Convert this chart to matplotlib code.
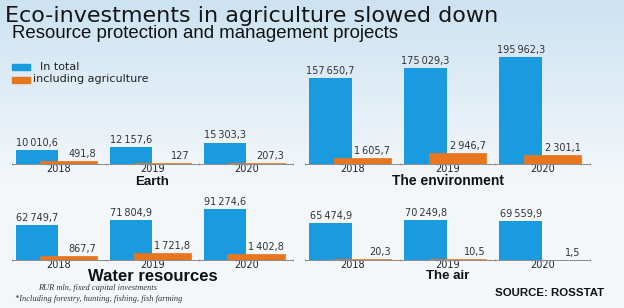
import numpy as np
import matplotlib
matplotlib.use('Agg')
import matplotlib.pyplot as plt
from matplotlib import transforms

years = ['2018', '2019', '2020']

earth_total = [10010.6, 12157.6, 15303.3]
earth_agri = [491.8, 127, 207.3]
env_total = [157650.7, 175029.3, 195962.3]
env_agri = [1605.7, 2946.7, 2301.1]
water_total = [62749.7, 71804.9, 91274.6]
water_agri = [867.7, 1721.8, 1402.8]
air_total = [65474.9, 70249.8, 69559.9]
air_agri = [20.3, 10.5, 1.5]

BLUE = '#1a9be0'
ORANGE = '#e8761f'
W, H = 624, 308


def fmt(v):
    if float(v).is_integer():
        return str(int(v))
    s = f'{v:,.1f}'
    return s.replace(',', '\u2009').replace('.', ',')


def panel(fig, left, bottom, width, height, total, agri, ymax, ymax2, title, tsize, toff):
    ax = fig.add_axes([left / W, 1 - bottom / H, width / W, height / H])
    ax.patch.set_alpha(0)
    x = np.arange(len(years))
    ax.bar(x - 0.455, total, width=0.45, align='edge', color=BLUE, zorder=2)
    ax.set_xlim(-0.5, 2.5)
    ax.set_ylim(0, ymax)
    for s in ['top', 'right', 'left']:
        ax.spines[s].set_visible(False)
    ax.spines['bottom'].set_color('#8a8a8a')
    ax.spines['bottom'].set_linewidth(0.7)
    ax.set_yticks([])
    ax.set_xticks(x)
    ax.set_xticklabels(years, fontsize=7, color='#222222')
    ax.tick_params(axis='x', which='major', length=0, pad=0.3)
    ax.set_xticks([-0.5, 0.5, 1.5, 2.5], minor=True)
    ax.tick_params(axis='x', which='minor', length=2, width=0.6, color='#8a8a8a', direction='inout')
    for xi, v in zip(x, total):
        ax.annotate(fmt(v), (xi - 0.23, v), xytext=(0, 1.5), textcoords='offset points',
                    ha='center', va='bottom', fontsize=7, color='#333333')

    ax2 = ax.twinx()
    ax2.bar(x - 0.2, agri, width=0.61, align='edge', color=ORANGE,
            edgecolor=ORANGE, linewidth=0.5, zorder=3)
    ax2.set_ylim(0, ymax2)
    ax2.set_yticks([])
    for s in ['top', 'right', 'left', 'bottom']:
        ax2.spines[s].set_visible(False)
    for xi, v in zip(x, agri):
        ax2.annotate(fmt(v), (xi + 0.4, v), xytext=(0, 1.5), textcoords='offset points',
                     ha='right', va='bottom', fontsize=7, color='#333333')

    tr = transforms.blended_transform_factory(ax.transData, ax.transAxes)
    ax.annotate(title, (1, 0), xycoords=tr, xytext=(0, -toff), textcoords='offset points',
                ha='center', va='baseline', fontsize=tsize, fontweight='bold',
                family='Liberation Sans', color='#111111')
    return ax


fig = plt.figure(figsize=(W / 100, H / 100), dpi=100)

# background gradient
bg = fig.add_axes([0, 0, 1, 1])
grad = np.linspace(0, 1, 200)[:, None]
top = np.array([0.80, 0.89, 0.95])
bot = np.array([0.96, 0.97, 0.98])
t = np.clip(grad / 0.6, 0, 1)
img = top * (1 - t)[..., None] + bot * t[..., None]
bg.imshow(np.repeat(img, 2, axis=1), aspect='auto', extent=[0, 1, 0, 1], origin='upper')
bg.set_axis_off()

panel(fig, 12, 164, 281, 110, earth_total, earth_agri, 78600, 20000, 'Earth', 9.5, 15)
panel(fig, 305, 164, 285, 110, env_total, env_agri, 201300, 29200, 'The environment', 10, 15)
panel(fig, 12, 260, 281, 60, water_total, water_agri, 108000, 14100, 'Water resources', 12, 15.2)
panel(fig, 305, 260, 285, 60, air_total, air_agri, 106000, 1200, 'The air', 9.5, 14)

fig.text(5 / W, 1 - 22 / H, 'Eco-investments in agriculture slowed down', fontsize=16,
         family='DejaVu Sans', color='#161616', va='baseline', ha='left')
fig.text(12 / W, 1 - 38 / H, 'Resource protection and management projects', fontsize=13.4,
         family='Liberation Sans', color='#111111', va='baseline', ha='left')

# legend
fig.patches.append(plt.Rectangle((12 / W, 1 - 70 / H), 18 / W, 6 / H,
                                 transform=fig.transFigure, color=BLUE))
fig.patches.append(plt.Rectangle((12 / W, 1 - 83 / H), 18 / W, 6 / H,
                                 transform=fig.transFigure, color=ORANGE))
fig.text(40 / W, 1 - 67 / H, 'In total', fontsize=8, va='center', color='#222222')
fig.text(33 / W, 1 - 79 / H, 'including agriculture', fontsize=8, va='center', color='#222222')

fig.text(38 / W, 1 - 288 / H, 'RUR mln, fixed capital investments', fontsize=6,
         family='Liberation Serif', style='italic', va='center', color='#333333')
fig.text(15 / W, 1 - 299 / H, '*Including forestry, hunting, fishing, fish farming', fontsize=6,
         family='Liberation Serif', style='italic', va='center', color='#333333')
fig.text(604 / W, 1 - 293 / H, 'SOURCE: ROSSTAT', fontsize=8.2, fontweight='bold',
         family='Liberation Sans', ha='right', va='center', color='#111111')

fig.savefig('out.png', dpi=100)
